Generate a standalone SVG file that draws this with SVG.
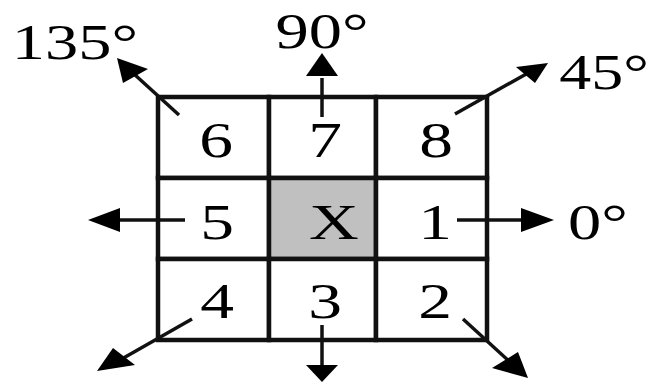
<svg xmlns="http://www.w3.org/2000/svg" width="651" height="383" viewBox="0 0 651 383">
<style>
.cell{fill:#fff;stroke:#111;stroke-width:4.5}
.center{fill:#c0c0c0}
.t{font-family:"Liberation Serif","Times New Roman",serif;font-size:50px;fill:#000;text-anchor:middle}
.ln{stroke:#111;stroke-width:3.5;fill:none}
.hd{fill:#000}
</style>
<rect width="651" height="383" fill="#fff"/>
<g id="cell-6"><rect class="cell" x="158" y="97" width="111" height="81"/><text class="t" transform="translate(216,157) scale(1.35,1)">6</text></g>
<g id="cell-7"><rect class="cell" x="269" y="97" width="107" height="81"/><text class="t" transform="translate(325,157) scale(1.35,1)">7</text></g>
<g id="cell-8"><rect class="cell" x="376" y="97" width="111" height="81"/><text class="t" transform="translate(436,157) scale(1.35,1)">8</text></g>
<g id="cell-5"><rect class="cell" x="158" y="178" width="111" height="81"/><text class="t" transform="translate(217,239) scale(1.35,1)">5</text></g>
<g id="cell-X"><rect class="cell center" x="269" y="178" width="107" height="81"/><text class="t" transform="translate(334,239) scale(1.38,1)">X</text></g>
<g id="cell-1"><rect class="cell" x="376" y="178" width="111" height="81"/><text class="t" transform="translate(435,239) scale(1.35,1)">1</text></g>
<g id="cell-4"><rect class="cell" x="158" y="259" width="111" height="81"/><text class="t" transform="translate(217,318) scale(1.35,1)">4</text></g>
<g id="cell-3"><rect class="cell" x="269" y="259" width="107" height="81"/><text class="t" transform="translate(325,318) scale(1.35,1)">3</text></g>
<g id="cell-2"><rect class="cell" x="376" y="259" width="111" height="81"/><text class="t" transform="translate(435,318) scale(1.35,1)">2</text></g>
<g id="connectors">
<line class="ln" x1="457" y1="220" x2="524" y2="220"/><polygon class="hd" points="554,220 521,208 521,232"/>
<line class="ln" x1="185" y1="220" x2="118" y2="220"/><polygon class="hd" points="88,220 120,208 120,232"/>
<line class="ln" x1="322" y1="117" x2="322" y2="78"/><polygon class="hd" points="322,53 306,76 338,76"/>
<line class="ln" x1="322" y1="325" x2="322" y2="367"/><polygon class="hd" points="322,382 306,365 338,365"/>
<line class="ln" x1="179" y1="115" x2="134" y2="74"/><polygon class="hd" points="117,58 148,69 123,83"/>
<line class="ln" x1="455" y1="114" x2="528" y2="73"/><polygon class="hd" points="548,63 516,67 535,83"/>
<line class="ln" x1="192" y1="319" x2="120" y2="360"/><polygon class="hd" points="97,371 113,348 135,365"/>
<line class="ln" x1="463" y1="319" x2="510" y2="362"/><polygon class="hd" points="528,378 518,352 492,368"/>
</g>
<g id="labels">
<text class="t" transform="translate(75,59) scale(1.33,1)">135°</text>
<text class="t" transform="translate(322,48) scale(1.33,1)">90°</text>
<text class="t" transform="translate(604,89) scale(1.28,1)">45°</text>
<text class="t" transform="translate(598,239) scale(1.33,1)">0°</text>
</g>
</svg>
